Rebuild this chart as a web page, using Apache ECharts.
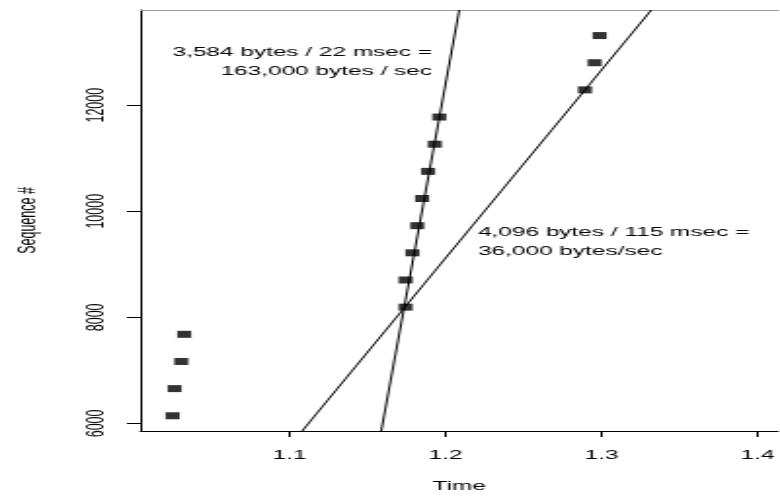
<!DOCTYPE html>
<html>
<head>
<meta charset="utf-8">
<script src="https://cdn.jsdelivr.net/npm/echarts@6/dist/echarts.min.js"></script>
<style>
html,body{margin:0;padding:0;background:#fff;}
#wrap{width:780px;height:498px;overflow:hidden;position:relative;background:#fff;}
#chart{width:400px;height:498px;transform:scaleX(1.95);transform-origin:0 0;}
</style>
</head>
<body>
<div id="wrap"><div id="chart"></div></div>
<script>
// ---- data ----
const segTimes = [1.0250, 1.0263, 1.0306, 1.0325,
                  1.1744, 1.1744, 1.1788, 1.1819, 1.1850, 1.1888, 1.1931, 1.1960,
                  1.2894, 1.2956, 1.2988];
const segSeq   = [6144, 6656, 7168, 7680,
                  8192, 8704, 9216, 9728, 10240, 10752, 11264, 11776,
                  12288, 12800, 13312];
const fastLineX = [1.1588, 1.2088];
const fastLineY = [5857, 13794];
const slowLineX = [1.1081, 1.3319];
const slowLineY = [5857, 13794];
const xTicks = [1.1, 1.2, 1.3, 1.4];
const xTickLabels = ['1.1', '1.2', '1.3', '1.4'];
const yTicks = [6000, 8000, 10000, 12000];
const yTickLabels = ['6000', '8000', '10000', '12000'];
const annot1Lines = ['3,584 bytes / 22 msec =', '163,000 bytes / sec'];
const annot2Lines = ['4,096 bytes / 115 msec =', '36,000 bytes/sec'];
const xTitle = 'Time';
const yTitle = 'Sequence #';

// ---- layout (base coordinates; page is stretched horizontally by S) ----
const S = 1.95;
const FONT = '"Liberation Sans", Arial, Helvetica, sans-serif';
const X_MIN = 1.0044, X_MAX = 1.4131, Y_MIN = 5857, Y_MAX = 13794;

const chart = echarts.init(document.getElementById('chart'), null, {renderer: 'canvas'});
const pts = segTimes.map((t, i) => [t, segSeq[i]]);
const l1 = fastLineX.map((x, i) => [x, fastLineY[i]]);
const l2 = slowLineX.map((x, i) => [x, slowLineY[i]]);

const txt = (s, x, y, align) => ({
  type: 'text', x: x, y: y, silent: true,
  style: {text: s, fill: '#000', font: '12.5px ' + FONT,
          textAlign: align, align: align, textVerticalAlign: 'middle', verticalAlign: 'middle'}
});

chart.setOption({
  animation: false,
  backgroundColor: '#fff',
  grid: {left: 132 / S, top: 10, width: (786 - 132) / S, height: 426, show: false},
  xAxis: [{
    type: 'value', min: X_MIN, max: X_MAX, position: 'bottom',
    name: xTitle, nameLocation: 'middle', nameGap: 49,
    nameTextStyle: {color: '#000', fontSize: 12.5, fontFamily: FONT},
    axisLine: {show: true, onZero: false, lineStyle: {color: '#000', width: 1}},
    axisTick: {show: true, length: 6, customValues: xTicks, lineStyle: {color: '#000'}},
    axisLabel: {show: true, customValues: xTicks, margin: 18, color: '#000', fontSize: 12.5, fontFamily: FONT,
      formatter: v => xTickLabels[xTicks.findIndex(t => Math.abs(t - v) < 1e-9)] || ''},
    splitLine: {show: false}
  }, {
    type: 'value', min: X_MIN, max: X_MAX, position: 'top',
    axisLine: {show: true, onZero: false, lineStyle: {color: '#999', width: 1}},
    axisTick: {show: false}, axisLabel: {show: false}, splitLine: {show: false}
  }],
  yAxis: [{
    type: 'value', min: Y_MIN, max: Y_MAX, position: 'left',
    name: yTitle, nameLocation: 'middle', nameGap: 51, nameRotate: 90,
    nameTextStyle: {color: '#000', fontSize: 12.5, fontFamily: FONT},
    axisLine: {show: true, onZero: false, lineStyle: {color: '#000', width: 1}},
    axisTick: {show: true, length: 7, customValues: yTicks, lineStyle: {color: '#000'}},
    axisLabel: {show: true, customValues: yTicks, rotate: 90, margin: 16, color: '#000', fontSize: 12.5, fontFamily: FONT,
      formatter: v => yTickLabels[yTicks.indexOf(v)] || ''},
    splitLine: {show: false}
  }],
  series: [
    {type: 'line', data: l1, symbol: 'none', clip: true, silent: true,
     lineStyle: {color: '#000', width: 1}},
    {type: 'line', data: l2, symbol: 'none', clip: true, silent: true,
     lineStyle: {color: '#000', width: 1}},
    {type: 'scatter', data: pts, symbol: 'rect', symbolSize: [7.2, 7], silent: true,
     itemStyle: {color: '#000'}}
  ],
  graphic: [
    txt(annot1Lines[0], 432 / S, 52.8, 'right'),
    txt(annot1Lines[1], 432 / S, 71.2, 'right'),
    txt(annot2Lines[0], 478 / S, 232.5, 'left'),
    txt(annot2Lines[1], 478 / S, 251.5, 'left')
  ]
});
</script>
</body>
</html>
